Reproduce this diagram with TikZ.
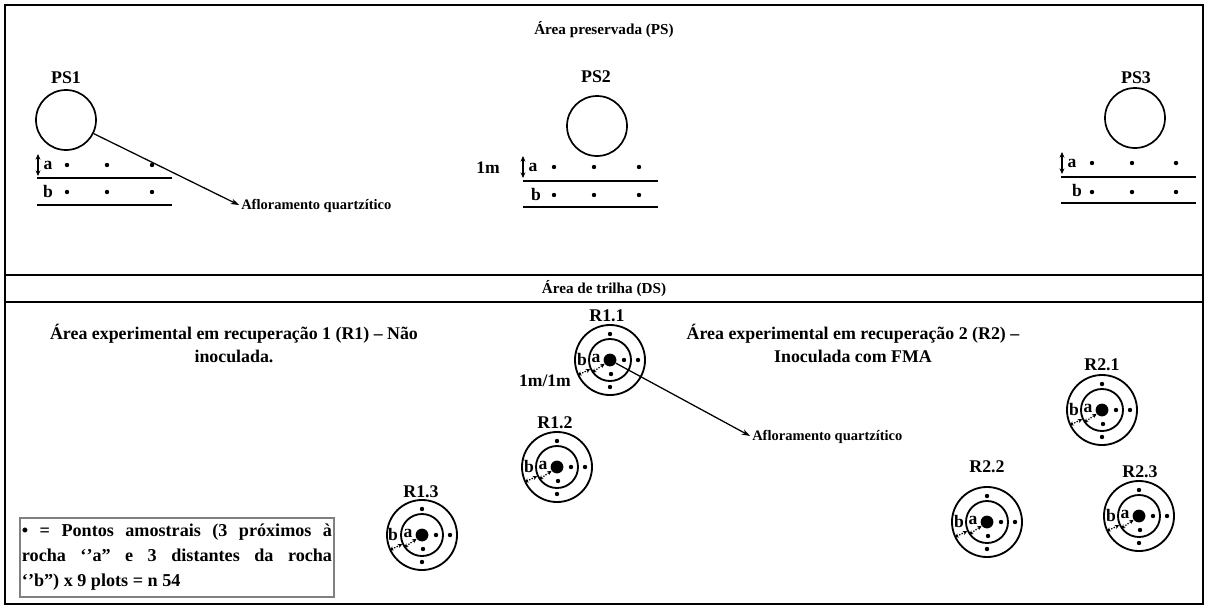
\documentclass[tikz,border=0pt]{standalone}
\usepackage{fontspec}
\setmainfont{Liberation Serif}
\usetikzlibrary{arrows.meta}

\tikzset{
  framerule/.style={line width=1.4pt},
  rowline/.style={line width=1.3pt},
  rock/.style={circle, draw, line width=1.2pt, inner sep=0pt, minimum size=1.5cm},
  plotring/.style={circle, draw, line width=1.3pt, inner sep=0pt},
  plotcore/.style={circle, fill, inner sep=0pt, minimum size=0.32cm},
  plotspot/.style={circle, fill, inner sep=0pt, minimum size=0.11cm},
  bigtext/.style={font=\fontsize{12.7}{16.4}\selectfont\bfseries, inner sep=0pt},
  titletext/.style={font=\fontsize{10.8}{13}\selectfont\bfseries, inner sep=0pt},
  lettertext/.style={font=\fontsize{12.5}{14}\selectfont\bfseries, inner sep=0pt},
  smalltext/.style={font=\fontsize{10.3}{12}\selectfont\bfseries, inner sep=0pt},
  pointer/.style={line width=0.9pt, shorten >=1.5pt, -{Stealth[length=6pt,width=4pt]}},
  heightarrow/.style={line width=0.9pt, {Stealth[length=4pt,width=3.5pt]}-{Stealth[length=4pt,width=3.5pt]}},
  gaparrow/.style={densely dotted, line width=0.9pt, {Stealth[length=3pt,width=3pt]}-{Stealth[length=3pt,width=3pt]}}
}

\begin{document}
\begin{tikzpicture}[x=0.025cm,y=-0.025cm]
    \useasboundingbox (0,0) rectangle (1206,606);

    % Drawing frame and dividers
    \draw [framerule] (5,5) rectangle (1203,604);%
    \draw [framerule] (5,275) -- (1203,275);%
    \draw [framerule] (5,302) -- (1203,302);%
    \node [titletext] (pstitle) at (604,30) {Área preservada (PS)};%
    \node [titletext] (dstitle) at (604,289) {Área de trilha (DS)};%

    % Drawing PS1
    \node [bigtext] (ps1name) at (66,78) {PS1};%
    \node [rock] (ps1) at (66,120) {};%
    \draw [heightarrow] (38,154) -- (38,176);%
    \node [lettertext] (ps1a) at (48,165) {a};%
    \node [lettertext] (ps1b) at (48,191) {b};%
    \node [plotspot] (ps1a1) at (67,165) {};%
    \node [plotspot] (ps1a2) at (107,165) {};%
    \node [plotspot] (ps1a3) at (152,165) {};%
    \node [plotspot] (ps1b1) at (67,192) {};%
    \node [plotspot] (ps1b2) at (107,192) {};%
    \node [plotspot] (ps1b3) at (152,192) {};%
    \draw [rowline] (37,178) -- (172,178);%
    \draw [rowline] (37,205) -- (172,205);%
    \node [smalltext, anchor=west] (aflor1) at (241,206) {Afloramento quartzítico};%
    \draw [pointer] (ps1) -- (aflor1.west);%

    % Drawing PS2
    \node [bigtext] (ps2name) at (596,77) {PS2};%
    \node [rock] (ps2) at (597,126) {};%
    \node [lettertext] (onem) at (488,168) {1m};%
    \draw [heightarrow] (523,156) -- (523,178);%
    \node [lettertext] (ps2a) at (533,167) {a};%
    \node [lettertext] (ps2b) at (536,194) {b};%
    \node [plotspot] (ps2a1) at (554,167) {};%
    \node [plotspot] (ps2a2) at (594,167) {};%
    \node [plotspot] (ps2a3) at (639,167) {};%
    \node [plotspot] (ps2b1) at (554,195) {};%
    \node [plotspot] (ps2b2) at (594,195) {};%
    \node [plotspot] (ps2b3) at (639,195) {};%
    \draw [rowline] (523,181) -- (658,181);%
    \draw [rowline] (523,207) -- (658,207);%

    % Drawing PS3
    \node [bigtext] (ps3name) at (1136,78) {PS3};%
    \node [rock] (ps3) at (1135,118) {};%
    \draw [heightarrow] (1062,152) -- (1062,174);%
    \node [lettertext] (ps3a) at (1072,163) {a};%
    \node [lettertext] (ps3b) at (1077,190) {b};%
    \node [plotspot] (ps3a1) at (1092,163) {};%
    \node [plotspot] (ps3a2) at (1132,163) {};%
    \node [plotspot] (ps3a3) at (1176,163) {};%
    \node [plotspot] (ps3b1) at (1092,192) {};%
    \node [plotspot] (ps3b2) at (1132,192) {};%
    \node [plotspot] (ps3b3) at (1176,192) {};%
    \draw [rowline] (1061,177) -- (1196,177);%
    \draw [rowline] (1061,203) -- (1196,203);%

    % Drawing area texts
    \node [bigtext, align=center] (rone) at (234,343.5) {Área experimental em recuperação 1 (R1) – Não\\inoculada.};%
    \node [bigtext, align=center] (rtwo) at (853,343.5) {Área experimental em recuperação 2 (R2) –\\Inoculada com FMA};%
    \node [lettertext] (onemonem) at (545,381) {1m/1m};%

    % Drawing plot R1.1
    \node [bigtext] (r11name) at (607,316) {R1.1};%
    \node [plotring, minimum size=1.75cm] (r11out) at (610,360) {};%
    \node [plotring, minimum size=1.05cm] (r11in) at (610,360) {};%
    \node [plotcore] (r11) at (610,360) {};%
    \node [plotspot] (r11s1) at (610,334) {};%
    \node [plotspot] (r11s2) at (610,387) {};%
    \node [plotspot] (r11s3) at (638,360) {};%
    \node [plotspot] (r11s4) at (624,360) {};%
    \node [plotspot] (r11s5) at (611,374) {};%
    \node [lettertext] (r11b) at (582,359) {b};%
    \node [lettertext] (r11a) at (596,358) {a};%
    \draw [gaparrow] (r11out.205) -- (r11in.205);%
    \draw [gaparrow] (r11in.215) -- (r11.215);%
    \node [smalltext, anchor=west] (aflor2) at (752,437) {Afloramento quartzítico};%
    \draw [pointer] (r11) -- (aflor2.west);%

    % Drawing plot R1.2
    \node [bigtext] (r12name) at (555,423) {R1.2};%
    \node [plotring, minimum size=1.75cm] (r12out) at (557,467) {};%
    \node [plotring, minimum size=1.05cm] (r12in) at (557,467) {};%
    \node [plotcore] (r12) at (557,467) {};%
    \node [plotspot] (r12s1) at (557,441) {};%
    \node [plotspot] (r12s2) at (557,494) {};%
    \node [plotspot] (r12s3) at (585,467) {};%
    \node [plotspot] (r12s4) at (571,467) {};%
    \node [plotspot] (r12s5) at (558,481) {};%
    \node [lettertext] (r12b) at (529,466) {b};%
    \node [lettertext] (r12a) at (543,465) {a};%
    \draw [gaparrow] (r12out.205) -- (r12in.205);%
    \draw [gaparrow] (r12in.215) -- (r12.215);%

    % Drawing plot R1.3
    \node [bigtext] (r13name) at (421,492) {R1.3};%
    \node [plotring, minimum size=1.75cm] (r13out) at (422,535) {};%
    \node [plotring, minimum size=1.05cm] (r13in) at (422,535) {};%
    \node [plotcore] (r13) at (422,535) {};%
    \node [plotspot] (r13s1) at (422,509) {};%
    \node [plotspot] (r13s2) at (422,562) {};%
    \node [plotspot] (r13s3) at (450,535) {};%
    \node [plotspot] (r13s4) at (436,535) {};%
    \node [plotspot] (r13s5) at (423,549) {};%
    \node [lettertext] (r13b) at (393,534) {b};%
    \node [lettertext] (r13a) at (408,533) {a};%
    \draw [gaparrow] (r13out.205) -- (r13in.205);%
    \draw [gaparrow] (r13in.215) -- (r13.215);%

    % Drawing plot R2.1
    \node [bigtext] (r21name) at (1102,365) {R2.1};%
    \node [plotring, minimum size=1.75cm] (r21out) at (1102,410) {};%
    \node [plotring, minimum size=1.05cm] (r21in) at (1102,410) {};%
    \node [plotcore] (r21) at (1102,410) {};%
    \node [plotspot] (r21s1) at (1102,384) {};%
    \node [plotspot] (r21s2) at (1102,437) {};%
    \node [plotspot] (r21s3) at (1130,410) {};%
    \node [plotspot] (r21s4) at (1116,410) {};%
    \node [plotspot] (r21s5) at (1103,424) {};%
    \node [lettertext] (r21b) at (1074,409) {b};%
    \node [lettertext] (r21a) at (1088,408) {a};%
    \draw [gaparrow] (r21out.205) -- (r21in.205);%
    \draw [gaparrow] (r21in.215) -- (r21.215);%

    % Drawing plot R2.2
    \node [bigtext] (r22name) at (987,467) {R2.2};%
    \node [plotring, minimum size=1.75cm] (r22out) at (987,522) {};%
    \node [plotring, minimum size=1.05cm] (r22in) at (987,522) {};%
    \node [plotcore] (r22) at (987,522) {};%
    \node [plotspot] (r22s1) at (987,496) {};%
    \node [plotspot] (r22s2) at (987,549) {};%
    \node [plotspot] (r22s3) at (1015,522) {};%
    \node [plotspot] (r22s4) at (1001,522) {};%
    \node [plotspot] (r22s5) at (988,536) {};%
    \node [lettertext] (r22b) at (959,521) {b};%
    \node [lettertext] (r22a) at (973,520) {a};%
    \draw [gaparrow] (r22out.205) -- (r22in.205);%
    \draw [gaparrow] (r22in.215) -- (r22.215);%

    % Drawing plot R2.3
    \node [bigtext] (r23name) at (1140,472) {R2.3};%
    \node [plotring, minimum size=1.75cm] (r23out) at (1139,516) {};%
    \node [plotring, minimum size=1.05cm] (r23in) at (1139,516) {};%
    \node [plotcore] (r23) at (1139,516) {};%
    \node [plotspot] (r23s1) at (1139,490) {};%
    \node [plotspot] (r23s2) at (1139,543) {};%
    \node [plotspot] (r23s3) at (1167,516) {};%
    \node [plotspot] (r23s4) at (1153,516) {};%
    \node [plotspot] (r23s5) at (1140,530) {};%
    \node [lettertext] (r23b) at (1111,515) {b};%
    \node [lettertext] (r23a) at (1125,514) {a};%
    \draw [gaparrow] (r23out.205) -- (r23in.205);%
    \draw [gaparrow] (r23in.215) -- (r23.215);%

    % Changing color 128 128 128
    \definecolor{r128g128b128}{rgb}{0.500000,0.500000,0.500000}%

    % Drawing legend
    \node [draw=r128g128b128, line width=1pt, font=\fontsize{12.9}{17.8}\selectfont\bfseries,
           text width=7.75cm, align=justify, inner xsep=0.05cm, inner ysep=0pt,
           minimum height=1.975cm] (legend) at (177,557.5)
          {• = Pontos amostrais (3 próximos à\linebreak rocha ‘’a” e 3 distantes da rocha\linebreak ‘’b”) x 9 plots = n 54};%
\end{tikzpicture}
\end{document}
